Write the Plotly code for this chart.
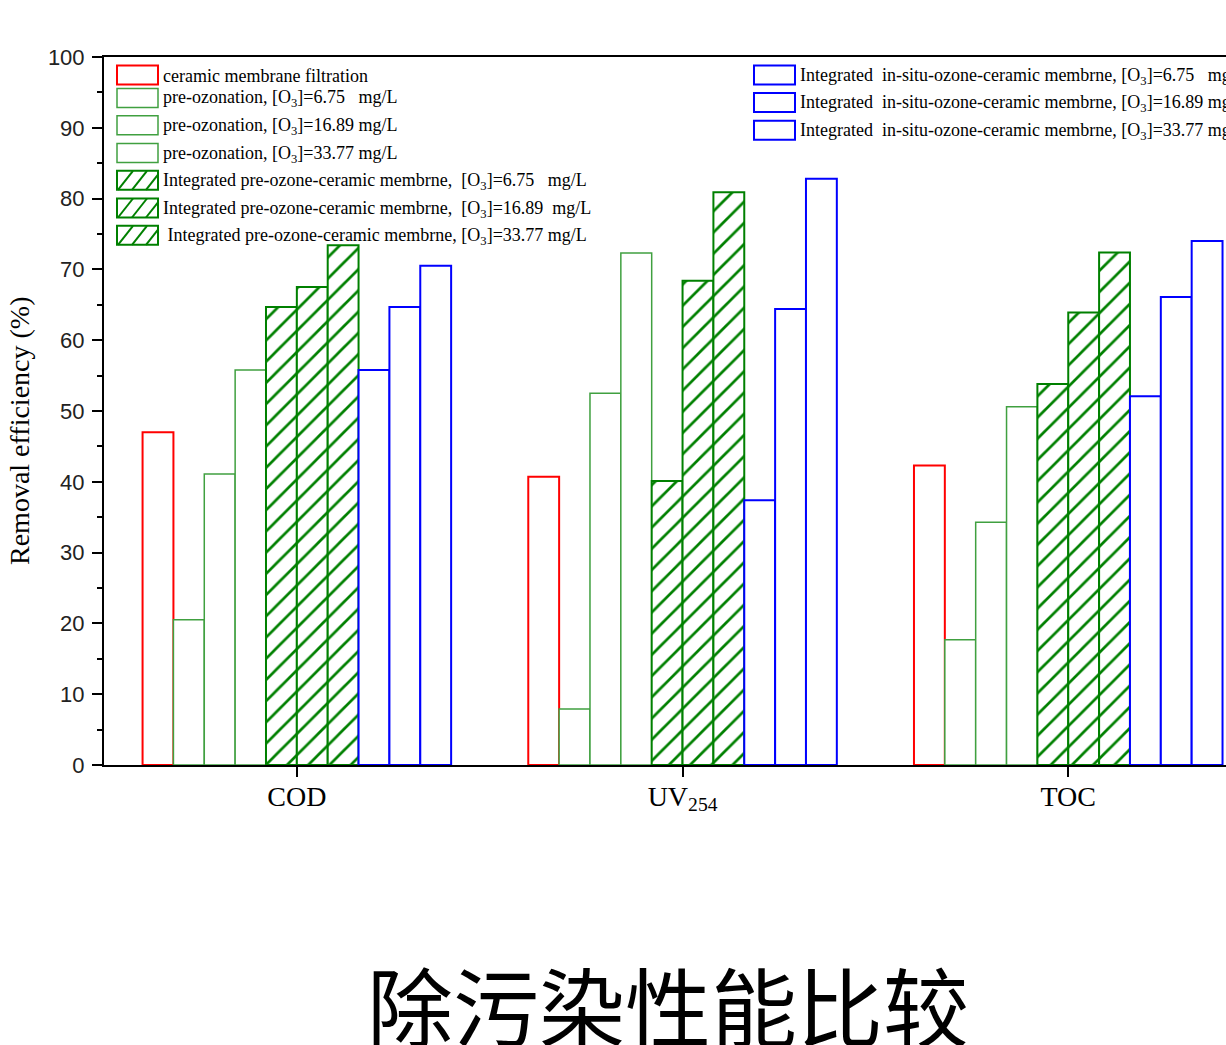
import plotly.graph_objects as go

# ---------------- data ----------------
categories = [0, 1, 2]
category_labels = ["COD", "UV<sub>254</sub>", "TOC"]

ceramic = [47.0, 40.7, 42.3]
pre_675 = [20.5, 7.9, 17.7]
pre_1689 = [41.1, 52.5, 34.3]
pre_3377 = [55.8, 72.3, 50.6]
int_pre_675 = [64.7, 40.1, 53.8]
int_pre_1689 = [67.5, 68.4, 63.9]
int_pre_3377 = [73.4, 80.9, 72.4]
insitu_675 = [55.8, 37.4, 52.1]
insitu_1689 = [64.7, 64.4, 66.1]
insitu_3377 = [70.5, 82.8, 74.0]

NB = "\u00a0"
left_legend = [
    "ceramic membrane filtration",
    f"pre-ozonation, [O<sub>3</sub>]=6.75{NB}{NB} mg/L",
    "pre-ozonation, [O<sub>3</sub>]=16.89 mg/L",
    "pre-ozonation, [O<sub>3</sub>]=33.77 mg/L",
    f"Integrated pre-ozone-ceramic membrne, {NB}[O<sub>3</sub>]=6.75{NB}{NB} mg/L",
    f"Integrated pre-ozone-ceramic membrne, {NB}[O<sub>3</sub>]=16.89 {NB}mg/L",
    f"{NB}Integrated pre-ozone-ceramic membrne, [O<sub>3</sub>]=33.77 mg/L",
]
right_legend = [
    f"Integrated {NB}in-situ-ozone-ceramic membrne, [O<sub>3</sub>]=6.75{NB}{NB} mg/L",
    f"Integrated {NB}in-situ-ozone-ceramic membrne, [O<sub>3</sub>]=16.89 mg/L",
    f"Integrated {NB}in-situ-ozone-ceramic membrne, [O<sub>3</sub>]=33.77 mg/L",
]

RED = "#ff0000"
LGREEN = "#40a040"
DGREEN = "#008000"
BLUE = "#0000ff"

series = [
    (ceramic, RED, 2, False),
    (pre_675, LGREEN, 1.5, False),
    (pre_1689, LGREEN, 1.5, False),
    (pre_3377, LGREEN, 1.5, False),
    (int_pre_675, DGREEN, 2, True),
    (int_pre_1689, DGREEN, 2, True),
    (int_pre_3377, DGREEN, 2, True),
    (insitu_675, BLUE, 2, False),
    (insitu_1689, BLUE, 2, False),
    (insitu_3377, BLUE, 2, False),
]

fig = go.Figure()
for vals, col, lw, hatched in series:
    marker = dict(color="white", line=dict(color=col, width=lw))
    if hatched:
        marker["pattern"] = dict(shape="/", fgcolor=col, bgcolor="white",
                                 size=15, solidity=0.18, fillmode="replace")
    fig.add_trace(go.Bar(x=categories, y=vals, marker=marker, showlegend=False))

# ---------------- geometry helpers (pixel -> paper) ----------------
W_FIG, H_FIG = 1226, 1045
L, T, B = 104, 57, 765
PW, PH = W_FIG - L, B - T


def px(p):
    return (p - L) / PW


def py(p):
    return (B - p) / PH


shapes = []
annotations = []

BOX_W, BOX_H = 41, 19


def legend_box(x0, yc, col, lw, hatched=False):
    y0, y1 = yc - BOX_H / 2, yc + BOX_H / 2
    shapes.append(dict(type="rect", xref="paper", yref="paper",
                       x0=px(x0), x1=px(x0 + BOX_W), y0=py(y1), y1=py(y0),
                       line=dict(color=col, width=lw), fillcolor="white"))
    if hatched:
        run = 15.0
        for k in range(3):
            xb = x0 + 1 + 14 * k
            xt = xb + run
            ytop = y0
            xr = x0 + BOX_W
            if xt > xr:
                frac = (xr - xb) / run
                xt = xr
                ytop = y1 - frac * BOX_H
            shapes.append(dict(type="line", xref="paper", yref="paper",
                               x0=px(xb), y0=py(y1), x1=px(xt), y1=py(ytop),
                               line=dict(color=col, width=2)))


def legend_text(x0, yc, text):
    annotations.append(dict(xref="paper", yref="paper", x=px(x0), y=py(yc),
                            xanchor="left", yanchor="middle", text=text,
                            showarrow=False,
                            font=dict(family="Liberation Serif", size=18, color="black")))


left_rows = [75, 98, 125.3, 153, 180.3, 208, 235.3]
left_style = [(RED, 2, False), (LGREEN, 1.5, False), (LGREEN, 1.5, False),
              (LGREEN, 1.5, False), (DGREEN, 2, True), (DGREEN, 2, True), (DGREEN, 2, True)]
for yc, (col, lw, h), txt in zip(left_rows, left_style, left_legend):
    legend_box(117, yc, col, lw, h)
    legend_text(161, yc + 1, txt)

right_rows = [75, 102.5, 130.3]
for yc, txt in zip(right_rows, right_legend):
    legend_box(754, yc, BLUE, 2)
    legend_text(798, yc + 1, txt)

# axis title
annotations.append(dict(xref="paper", yref="paper", x=px(19), y=py(431),
                        xanchor="center", yanchor="middle", textangle=-90,
                        text="Removal efficiency (%)", showarrow=False,
                        font=dict(family="Liberation Serif", size=28, color="black")))
# big caption
annotations.append(dict(xref="paper", yref="paper", x=px(668), y=py(1003),
                        xanchor="center", yanchor="middle",
                        text="除污染性能比较", showarrow=False,
                        font=dict(family="Noto Sans CJK SC", size=86, color="black")))

fig.update_layout(
    width=W_FIG, height=H_FIG, autosize=False,
    margin=dict(l=L, r=0, t=T, b=H_FIG - B, pad=0),
    plot_bgcolor="white", paper_bgcolor="white",
    barmode="group", bargap=0.2, bargroupgap=0,
    shapes=shapes, annotations=annotations,
    xaxis=dict(range=[-0.5, 2.409], tickvals=categories, ticktext=category_labels,
               showline=True, linecolor="black", linewidth=2, mirror=True,
               ticks="outside", ticklen=10, tickwidth=2, tickcolor="black",
               showgrid=False, zeroline=False, ticklabelstandoff=-5,
               tickfont=dict(family="Liberation Serif", size=28, color="black")),
    yaxis=dict(range=[0, 100], dtick=10, tick0=0,
               showline=True, linecolor="black", linewidth=2, mirror=False,
               ticks="outside", ticklen=10, tickwidth=2, tickcolor="black",
               minor=dict(dtick=5, ticks="outside", ticklen=5, tickwidth=2, tickcolor="black"),
               showgrid=False, zeroline=False, ticklabelstandoff=3,
               tickfont=dict(family="Liberation Sans", size=22, color="#222222")),
)

fig.write_html("out.html")
